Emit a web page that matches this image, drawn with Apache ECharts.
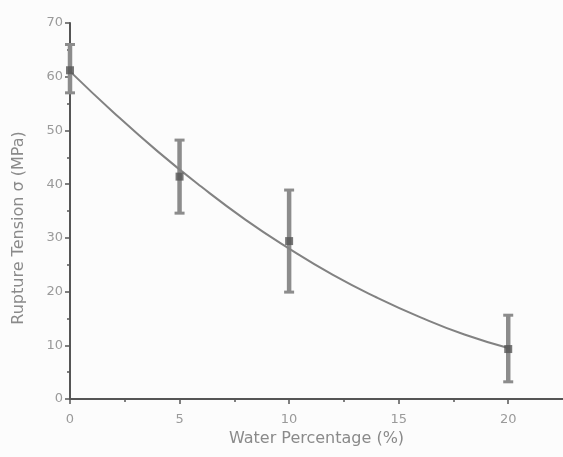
<!DOCTYPE html>
<html>
<head>
<meta charset="utf-8">
<script src="https://cdn.jsdelivr.net/npm/echarts@6/dist/echarts.min.js"></script>
<style>
html,body{margin:0;padding:0;background:#fcfcfc;}
#chart{width:563px;height:457px;}
</style>
</head>
<body>
<div id="chart"></div>
<script>
// Measured points
var waterPct = [0, 5, 10, 20];
var tension = [61.2, 41.4, 29.4, 9.3];
var errUpper = [66.0, 48.2, 38.9, 15.6];
var errLower = [57.0, 34.6, 19.9, 3.2];
// Fitted curve
var curveX = [0, 2, 4, 6, 8, 10, 12, 14, 16, 18, 20];
var curveY = [61.0, 53.3, 46.1, 39.5, 33.4, 28.0, 23.1, 18.9, 15.2, 12.0, 9.5];
// Axis ticks
var xTicks = [0, 5, 10, 15, 20];
var xMinorTicks = [2.5, 7.5, 12.5, 17.5];
var yTicks = [0, 10, 20, 30, 40, 50, 60, 70];

var chart = echarts.init(document.getElementById('chart'), null, {renderer: 'canvas'});

var errData = waterPct.map(function (x, i) { return [x, errLower[i], errUpper[i]]; });
var pts = waterPct.map(function (x, i) { return [x, tension[i]]; });
var curve = curveX.map(function (x, i) { return [x, curveY[i]]; });

var axisCol = '#555';
var labelCol = '#9a9a9a';
var nameCol = '#8a8a8a';
var font = 'DejaVu Sans';

var option = {
  backgroundColor: '#fcfcfc',
  animation: false,
  grid: {left: 70, right: 0, top: 23, bottom: 58},
  xAxis: [{
    type: 'value', min: 0, max: 22.5, position: 'bottom',
    name: 'Water Percentage (%)', nameLocation: 'middle', nameGap: 32,
    nameTextStyle: {color: nameCol, fontSize: 16, fontFamily: font},
    axisLine: {show: true, onZero: false, lineStyle: {color: axisCol, width: 2}},
    axisTick: {show: true, inside: false, length: 5, customValues: xTicks, lineStyle: {color: axisCol, width: 1.5}},
    axisLabel: {color: labelCol, fontSize: 13, fontFamily: font, margin: 14, customValues: xTicks},
    splitLine: {show: false}
  }, {
    type: 'value', min: 0, max: 22.5, position: 'bottom', offset: 0,
    axisLine: {show: false, onZero: false},
    axisTick: {show: true, inside: false, length: 3, customValues: xMinorTicks, lineStyle: {color: axisCol, width: 1.5}},
    axisLabel: {show: false},
    splitLine: {show: false}
  }],
  yAxis: {
    type: 'value', min: 0, max: 70, interval: 10,
    name: 'Rupture Tension σ (MPa)', nameLocation: 'middle', nameGap: 43,
    nameTextStyle: {color: nameCol, fontSize: 16, fontFamily: font, padding: [0, 34, 0, 0]},
    axisLine: {show: true, onZero: false, lineStyle: {color: axisCol, width: 2}},
    axisTick: {show: true, inside: false, length: 5, lineStyle: {color: axisCol, width: 1.5}},
    minorTick: {show: true, splitNumber: 2, length: 3, lineStyle: {color: axisCol, width: 1.5}},
    axisLabel: {color: labelCol, fontSize: 13, fontFamily: font, margin: 7,
      formatter: function (v) { return yTicks.indexOf(v) >= 0 ? String(v) : ''; }},
    splitLine: {show: false}
  },
  series: [
    {
      type: 'custom',
      data: errData,
      z: 2,
      renderItem: function (params, api) {
        var x = api.value(0);
        var lo = api.coord([x, api.value(1)]);
        var hi = api.coord([x, api.value(2)]);
        var cap = 5;
        var st = {stroke: '#8c8c8c', lineWidth: 4.5};
        var cs = {stroke: '#8c8c8c', lineWidth: 3};
        return {
          type: 'group',
          children: [
            {type: 'line', shape: {x1: lo[0], y1: lo[1], x2: hi[0], y2: hi[1]}, style: st},
            {type: 'line', shape: {x1: lo[0] - cap, y1: lo[1], x2: lo[0] + cap, y2: lo[1]}, style: cs},
            {type: 'line', shape: {x1: hi[0] - cap, y1: hi[1], x2: hi[0] + cap, y2: hi[1]}, style: cs}
          ]
        };
      }
    },
    {
      type: 'line',
      data: curve,
      smooth: true,
      showSymbol: false,
      z: 3,
      lineStyle: {color: '#828282', width: 2}
    },
    {
      type: 'scatter',
      data: pts,
      symbol: 'rect',
      symbolSize: 8,
      z: 4,
      itemStyle: {color: '#555'}
    }
  ]
};
chart.setOption(option);
</script>
</body>
</html>
